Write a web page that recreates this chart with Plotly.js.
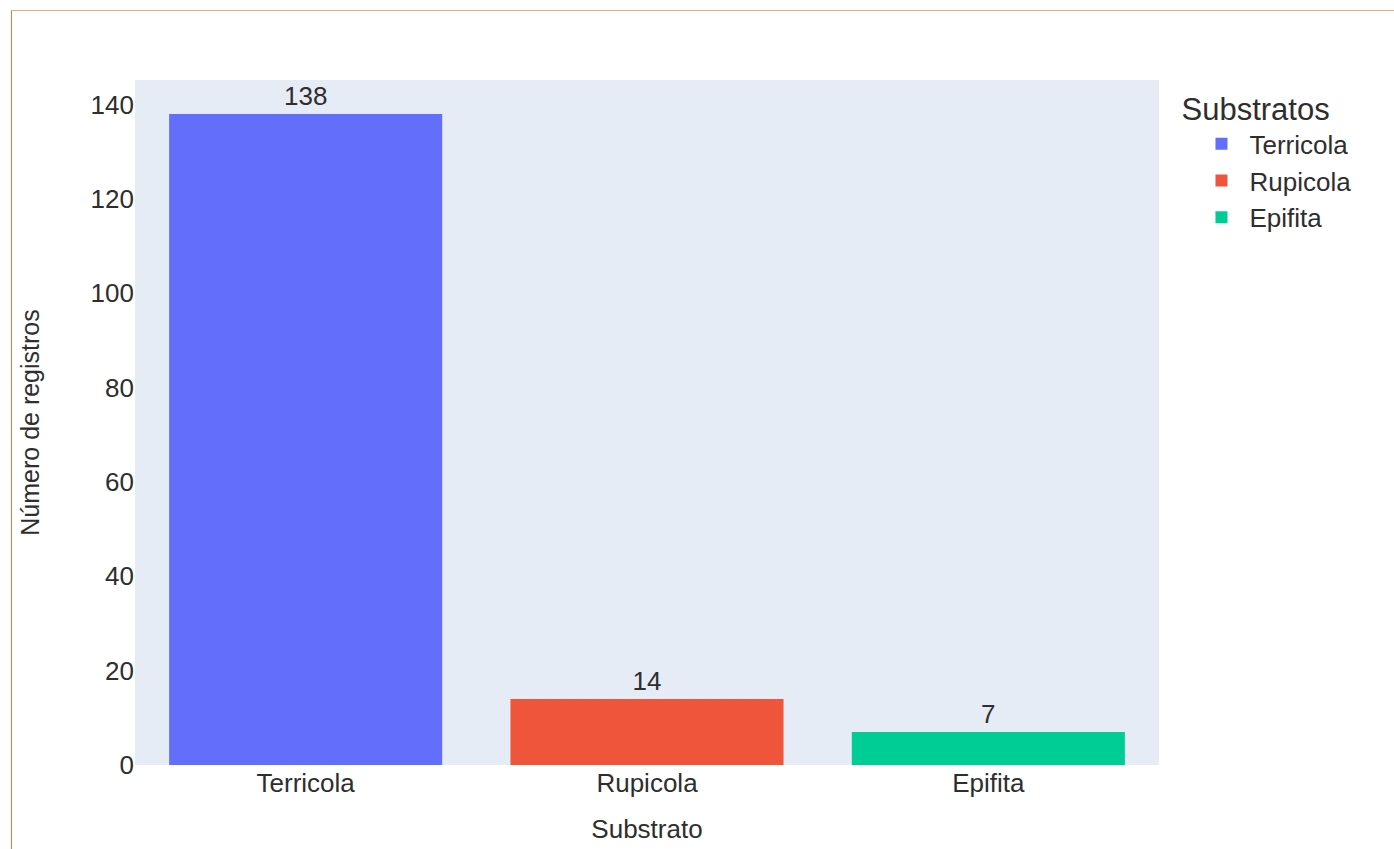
<!DOCTYPE html>
<html>
<head>
<meta charset="utf-8">
<script src="https://cdn.plot.ly/plotly-3.0.1.min.js"></script>
<style>
  html, body { margin: 0; padding: 0; background: #fff; }
  #chart { position: absolute; left: 0; top: 0; width: 1394px; height: 849px; }
  #frame { position: absolute; left: 11px; top: 10px; width: 1383px; height: 839px;
           border-top: 1.5px solid #f0aa80; border-left: 1.5px solid #e07a3c; pointer-events: none; box-sizing: border-box; }
</style>
</head>
<body>
<div id="chart"></div>
<div id="frame"></div>
<script>
const categories = ["Terricola", "Rupicola", "Epifita"];
const counts = [138, 14, 7];
const colors = ["#636efa", "#EF553B", "#00cc96"];

const FONT = "Arial, 'Liberation Sans', sans-serif";
const TXT = "#2e2e2e";

const traces = categories.map((c, i) => ({
  type: "bar",
  name: c,
  legendgroup: c,
  x: [c],
  y: [counts[i]],
  text: [String(counts[i])],
  textposition: "outside",
  cliponaxis: false,
  marker: { color: colors[i] },
  textfont: { size: 26, color: TXT, family: FONT },
  offsetgroup: "1"
}));

const layout = {
  width: 1394, height: 849,
  margin: { l: 135, r: 235, t: 80, b: 84 },
  paper_bgcolor: "#ffffff",
  plot_bgcolor: "#e5ecf6",
  font: { family: FONT, size: 26, color: TXT },
  bargap: 0.2,
  showlegend: true,
  legend: {
    title: { text: "Substratos", font: { size: 31, color: TXT } },
    font: { size: 26, color: TXT },
    x: 1.02, y: 1.0, xanchor: "left", yanchor: "top",
    tracegroupgap: 0,
    indentation: 14,
    itemwidth: 46
  },
  xaxis: {
    title: { text: "Substrato", font: { size: 26 }, standoff: 22 },
    showgrid: false, zeroline: false,
    categoryorder: "array", categoryarray: categories,
    tickfont: { size: 26 }
  },
  yaxis: {
    title: { text: "Número de registros", font: { size: 25 }, standoff: 43 },
    showgrid: false, zeroline: false,
    range: [0, 145.2],
    dtick: 20,
    tickfont: { size: 26 }
  }
};

Plotly.newPlot("chart", traces, layout, { displayModeBar: false, responsive: false });
</script>
</body>
</html>
